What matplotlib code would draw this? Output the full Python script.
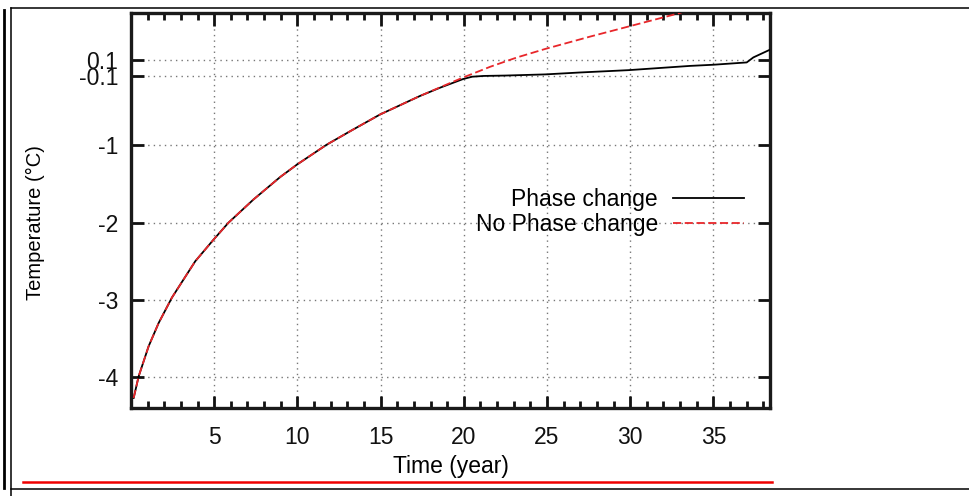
import matplotlib
matplotlib.use("Agg")
import matplotlib.pyplot as plt
from matplotlib.lines import Line2D
from matplotlib.ticker import MultipleLocator, FixedLocator

plt.rcParams['font.family'] = ['Liberation Sans', 'DejaVu Sans']

# Temperature without phase change (years, degrees C)
time_no_phase = [0.16, 0.46, 1.06, 1.66, 2.46, 3.86, 4.96, 5.86, 7.36, 8.96,
                 9.96, 11.76, 13.3, 14.96, 17.36, 18.6, 19.96, 21.6, 23.2,
                 24.9, 27.6, 29.9, 32.9, 33.3]
temp_no_phase = [-4.27, -3.99, -3.60, -3.30, -2.97, -2.50, -2.22, -2.00, -1.70,
                 -1.41, -1.25, -0.99, -0.80, -0.60, -0.36, -0.245, -0.12, 0.02,
                 0.14, 0.25, 0.41, 0.54, 0.71, 0.74]

# Temperature with phase change (years, degrees C)
time_phase = [0.16, 0.46, 1.06, 1.66, 2.46, 3.86, 4.96, 5.86, 7.36, 8.96,
              9.96, 11.76, 13.3, 14.96, 17.36, 18.6, 19.96, 20.5, 21.2, 22.5,
              24.9, 27.0, 29.9, 33.6, 35.0, 37.0, 37.4, 38.5]
temp_phase = [-4.27, -3.99, -3.60, -3.30, -2.97, -2.50, -2.22, -2.00, -1.70,
              -1.41, -1.25, -0.99, -0.80, -0.60, -0.36, -0.25, -0.14, -0.11,
              -0.10, -0.095, -0.08, -0.055, -0.025, 0.03, 0.045, 0.075, 0.14,
              0.25]

x_ticks = [5, 10, 15, 20, 25, 30, 35]
y_ticks = [0.1, -0.1, -1, -2, -3, -4]
y_tick_labels = ['0.1', '-0.1', '-1', '-2', '-3', '-4']

W, H = 970, 496
fig = plt.figure(figsize=(W / 100, H / 100), dpi=100)
fig.patch.set_facecolor('white')

ax = fig.add_axes([131 / W, 1 - 408 / H, 639 / W, 395 / H])

ax.plot(time_phase, temp_phase, color='black', lw=1.3, label='Phase change',
        zorder=3)
ax.plot(time_no_phase, temp_no_phase, color='#e8262a', lw=1.3,
        linestyle=(0, (4.5, 2)), label='No Phase change', zorder=4)

ax.set_xlim(0, 38.4)
ax.set_ylim(-4.4, 0.715)

ax.xaxis.set_major_locator(FixedLocator(x_ticks))
ax.xaxis.set_minor_locator(MultipleLocator(1))
ax.set_yticks(y_ticks)
ax.set_yticklabels(y_tick_labels)

ax.tick_params(which='both', direction='in', top=True, right=True,
               labelsize=16.5, colors='#111111', width=2)
ax.tick_params(which='major', length=9, pad=9)
ax.tick_params(which='minor', length=5)
ax.tick_params(axis='x', which='major', pad=13)

for s in ax.spines.values():
    s.set_linewidth(2.4)
    s.set_color('#1a1a1a')

ax.grid(True, which='major', color='#777777', linestyle=(0, (1, 3)), lw=1)

ax.set_xlabel('Time (year)', fontsize=16.5)
ax.xaxis.set_label_coords(0.5, -0.12)
ax.set_ylabel('Temperature (\u00b0C)', fontsize=14.5)
ax.yaxis.set_label_coords(-0.135, 0.47)

leg = ax.legend(loc='upper right', bbox_to_anchor=(744 / W, 1 - 188 / H),
                bbox_transform=fig.transFigure, frameon=False,
                markerfirst=False, fontsize=16.5, handlelength=3.1,
                handletextpad=0.65, labelspacing=0.08, borderpad=0,
                borderaxespad=0)

def fig_line(x0, y0, x1, y1, **kw):
    fig.add_artist(Line2D([x0 / W, x1 / W], [1 - y0 / H, 1 - y1 / H],
                          transform=fig.transFigure, **kw))

# Page frame around the figure
fig_line(4.3, 10, 4.3, 488, color='black', lw=2.0)
fig_line(11.3, 8.3, 11.3, 496, color='black', lw=1.1)
fig_line(11.3, 8.3, 970, 8.3, color='black', lw=1.1)
fig_line(11.3, 489, 970, 489, color='black', lw=1.1)
fig_line(23, 481.7, 771.7, 481.7, color='#ee0000', lw=1.8)

fig.savefig('out.png', dpi=100, facecolor='white')
